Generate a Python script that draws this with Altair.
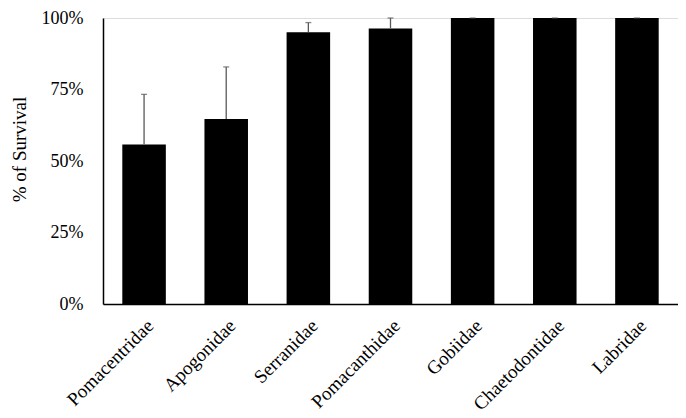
import altair as alt
import pandas as pd

families = ["Pomacentridae", "Apogonidae", "Serranidae", "Pomacanthidae",
            "Gobiidae", "Chaetodontidae", "Labridae"]
survival = [0.558, 0.647, 0.950, 0.963, 1.0, 1.0, 1.0]
error = [0.175, 0.182, 0.034, 0.037, 0.0, 0.0, 0.0]
y_ticks = [0, 0.25, 0.5, 0.75, 1.0]

df = pd.DataFrame({"family": families, "survival": survival, "error": error})
df["upper"] = df["survival"] + df["error"]

font = "Liberation Serif"

x_enc = alt.X("family:N", sort=families, title=None,
              scale=alt.Scale(paddingInner=0.47, paddingOuter=0.235),
              axis=alt.Axis(labelAngle=-45, labelAlign="right", labelBaseline="top",
                            labelPadding=12, ticks=False, domainColor="black",
                            domainWidth=1.5, labelFont=font, labelFontSize=19,
                            labelColor="black"))
y_scale = alt.Scale(domain=[0, 1], nice=False)

bars = alt.Chart(df).mark_bar(color="black").encode(
    x=x_enc,
    y=alt.Y("survival:Q", scale=y_scale, title="% of Survival",
            axis=alt.Axis(values=y_ticks, format=".0%", grid=False, ticks=False,
                          labelPadding=20, domainColor="black", domainWidth=1.5,
                          labelFont=font, labelFontSize=18, labelColor="black",
                          titleFont=font, titleFontSize=19, titleFontWeight="normal",
                          titleColor="black", titleAngle=-90, titleX=-84, titleY=131,
                          titleAlign="center", titleBaseline="middle")),
)

rules = alt.Chart(df).mark_rule(color="#595959", strokeWidth=1.3).encode(
    x=alt.X("family:N", sort=families),
    y=alt.Y("survival:Q", scale=y_scale),
    y2="upper:Q",
)

caps = alt.Chart(df).mark_tick(color="#595959", thickness=1.3, size=6, orient="horizontal").encode(
    x=alt.X("family:N", sort=families),
    y=alt.Y("upper:Q", scale=y_scale),
)

chart = (bars + rules + caps).properties(
    width=575, height=286,
    autosize=alt.AutoSizeParams(type="none"),
    padding={"left": 95, "top": 10, "right": 0, "bottom": 114},
).configure_view(stroke=None).configure(background="white")

chart.save("out.html", embed_options={"renderer": "svg", "actions": False})
